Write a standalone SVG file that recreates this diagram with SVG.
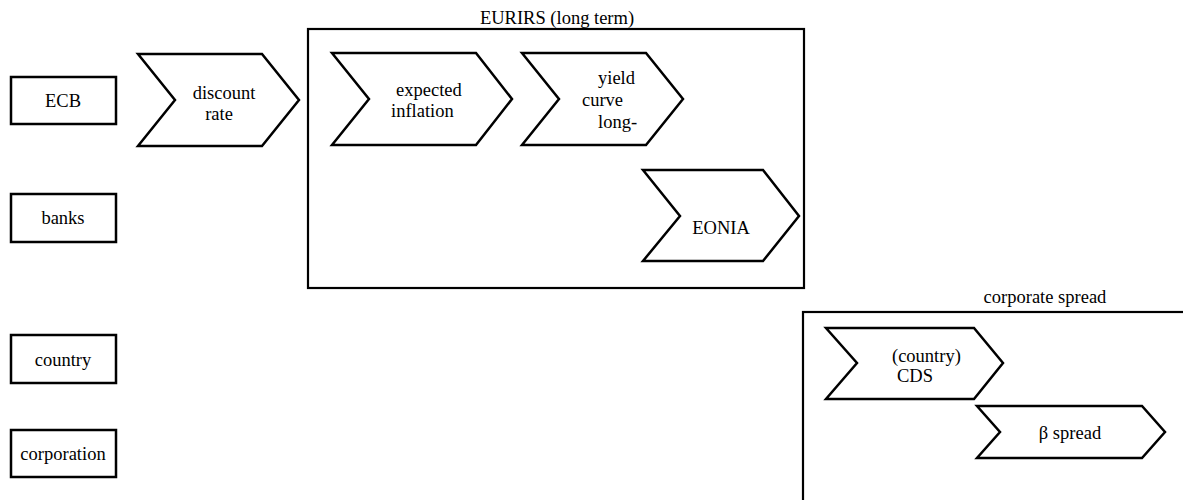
<svg xmlns="http://www.w3.org/2000/svg" width="1183" height="500" viewBox="0 0 1183 500">
<style>
.b{fill:#fff;stroke:#000;stroke-width:2.5;stroke-linejoin:miter}
.c{fill:none;stroke:#000;stroke-width:2.2}
text{font-family:"Liberation Serif","Times New Roman",serif;font-size:18.5px;fill:#000}
.m{text-anchor:middle}
</style>
<rect width="1183" height="500" fill="#fff"/>
<g id="eurirs">
<rect class="c" x="308" y="29" width="496" height="259"/>
<text class="m" x="557" y="24">EURIRS (long term)</text>
</g>
<g id="corporate-spread">
<rect class="c" x="803" y="312" width="400" height="200"/>
<text class="m" x="1045" y="303">corporate spread</text>
</g>
<g id="ecb"><rect class="b" x="11" y="77" width="105" height="47"/><text class="m" x="63" y="107">ECB</text></g>
<g id="banks"><rect class="b" x="11" y="194" width="105" height="48"/><text class="m" x="63" y="224">banks</text></g>
<g id="country"><rect class="b" x="11" y="335" width="105" height="48"/><text class="m" x="63" y="366">country</text></g>
<g id="corporation"><rect class="b" x="11" y="430" width="105" height="47"/><text class="m" x="63" y="460">corporation</text></g>
<g id="discount-rate">
<polygon class="b" points="138,54 262,54 299,100 262,146 138,146 175,100"/>
<text class="m" x="224" y="99">discount</text>
<text class="m" x="219" y="120">rate</text>
</g>
<g id="expected-inflation">
<polygon class="b" points="332,53 476,53 512,99 476,145 332,145 369,99"/>
<text x="396" y="96">expected</text>
<text x="391" y="117">inflation</text>
</g>
<g id="yield-curve">
<polygon class="b" points="522,53 646,53 683,99 646,145 522,145 559,99"/>
<text x="598" y="84">yield</text>
<text x="582" y="106">curve</text>
<text x="598" y="128">long-</text>
</g>
<g id="eonia">
<polygon class="b" points="643,170 763,170 799,216 763,261 643,261 680,216"/>
<text class="m" x="721" y="234">EONIA</text>
</g>
<g id="cds">
<polygon class="b" points="826,328 974,328 1003,363 974,399 826,399 857,363"/>
<text x="892" y="362">(country)</text>
<text x="897" y="382">CDS</text>
</g>
<g id="beta-spread">
<polygon class="b" points="977,406 1142,406 1165,432 1142,458 977,458 1000,432"/>
<text class="m" x="1070" y="439">β spread</text>
</g>
<g id="connectors"></g>
</svg>
